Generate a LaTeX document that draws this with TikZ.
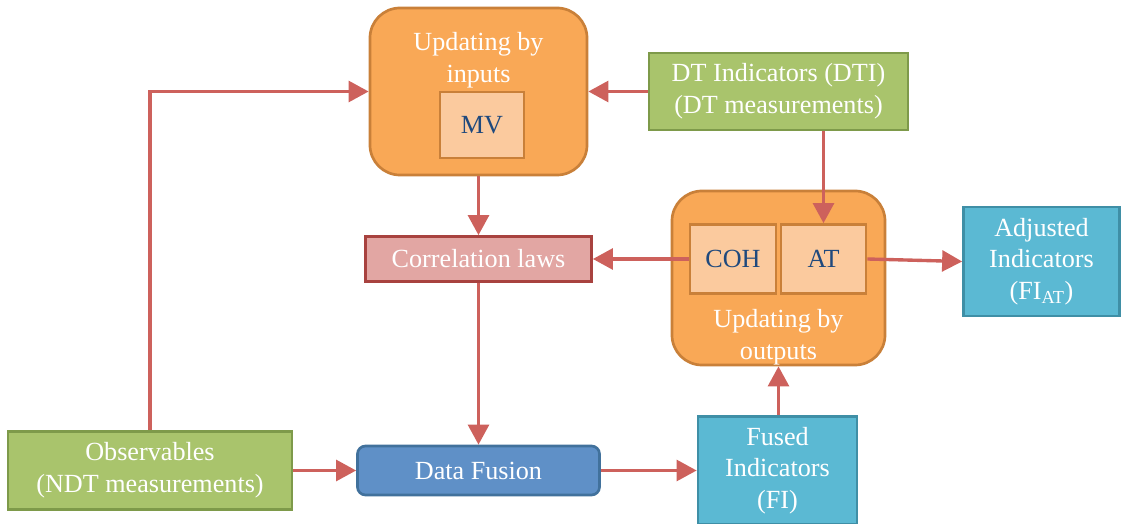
\documentclass[tikz,border=0pt]{standalone}
\usepackage{fontspec}
\setmainfont{Liberation Serif}
\usetikzlibrary{arrows.meta,positioning}

\definecolor{orgfill}{HTML}{F9A856}
\definecolor{orgline}{HTML}{C98039}
\definecolor{pchfill}{HTML}{FBCA9E}
\definecolor{grnfill}{HTML}{A9C46C}
\definecolor{grnline}{HTML}{7E9A4A}
\definecolor{redfill}{HTML}{E2A6A3}
\definecolor{redline}{HTML}{A8423F}
\definecolor{blufill}{HTML}{5F90C7}
\definecolor{bluline}{HTML}{41719C}
\definecolor{cyafill}{HTML}{5BB9D3}
\definecolor{cyaline}{HTML}{3F8FA6}
\definecolor{arrcol}{HTML}{CD615C}
\definecolor{navy}{HTML}{1F497D}

\begin{document}
\begin{tikzpicture}[
  x=0.025cm, y=-0.025cm,
  every node/.style={font=\fontsize{18.6}{22.5}\selectfont, align=center, inner sep=0pt},
  group/.style={draw=orgline, fill=orgfill, line width=1.9pt, rounded corners=0.75cm},
  part/.style={draw=orgline, fill=pchfill, line width=1.9pt, text=navy},
  meas/.style={draw=grnline, fill=grnfill, line width=1.9pt, text=white},
  ind/.style={draw=cyaline, fill=cyafill, line width=1.9pt, text=white},
  arr/.style={-{Triangle[length=0.5cm, width=0.52cm]}, line width=2.4pt, draw=arrcol}
]
  \useasboundingbox (0,0) rectangle (1121,524);

  % updating by inputs
  \node[group, minimum width=5.425cm, minimum height=4.175cm] (upin) at (478.5,91.5) {};
  \node[text=white] (upintxt) at (478.5,60) {Updating by\\inputs};
  \node[part, minimum width=2.1cm, minimum height=1.65cm] (mv) at (482,125) {MV};

  \node[meas, minimum width=6.475cm, minimum height=1.925cm] (dti) at (778.5,91.5) {DT Indicators (DTI)\\(DT measurements)};
  \node[draw=redline, fill=redfill, line width=1.9pt, text=white, minimum width=5.65cm, minimum height=1.125cm] (corr) at (478.5,259) {Correlation laws};

  % updating by outputs
  \node[group, minimum width=5.325cm, minimum height=4.35cm] (upout) at (778.5,278) {};
  \node[part, minimum width=2.15cm, minimum height=1.725cm] (coh) at (733,259) {COH};
  \node[part, minimum width=2.125cm, minimum height=1.725cm] (at) at (823.5,259) {AT};
  \node[text=white] (upouttxt) at (778.5,337) {Updating by\\outputs};

  \node[ind, minimum width=3.9cm, minimum height=2.725cm] (adj) at (1041.5,261.5) {Adjusted\\Indicators\\(FI\textsubscript{AT})};
  \node[meas, minimum width=7.1cm, minimum height=1.95cm] (obs) at (150,470.5) {Observables\\(NDT measurements)};
  \node[draw=bluline, fill=blufill, line width=1.9pt, rounded corners=0.2cm, text=white, minimum width=6.05cm, minimum height=1.225cm] (fusion) at (478.5,470.5) {Data Fusion};
  \node[ind, minimum width=3.975cm, minimum height=2.7cm] (fused) at (777.5,470.5) {Fused\\Indicators\\(FI)};

  \draw[arr] (obs.north) |- (upin.west);
  \draw[arr] (dti.west) -- (upin.east);
  \draw[arr] (upin.south) -- (corr.north);
  \draw[arr] (corr.south) -- (fusion.north);
  \draw[arr] (obs.east) -- (fusion.west);
  \draw[arr] (fusion.east) -- (fused.west);
  \draw[arr] (fused.north -| upout.south) -- (upout.south);
  \draw[arr] (dti.south -| at.north) -- (at.north);
  \draw[arr] (coh.west) -- (corr.east);
  \draw[arr] (at.east) -- (adj.west);
\end{tikzpicture}
\end{document}
